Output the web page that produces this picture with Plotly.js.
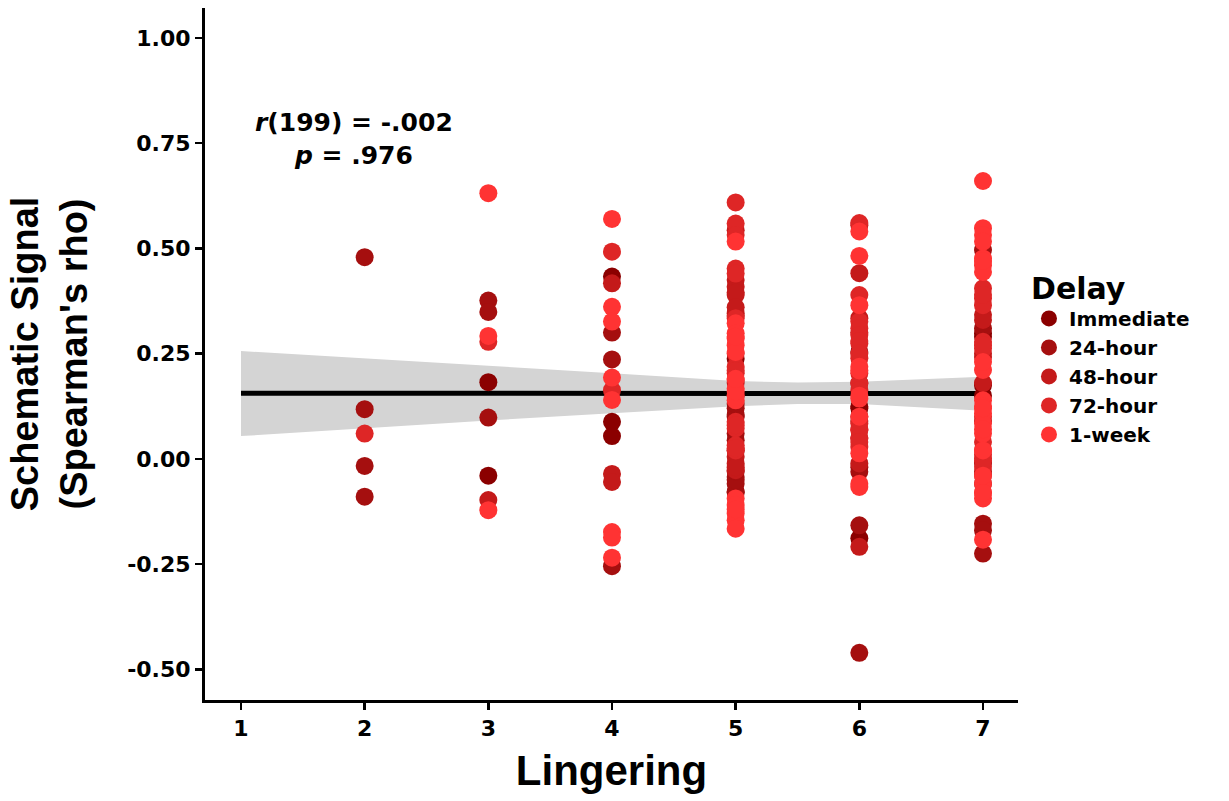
<!DOCTYPE html>
<html>
<head>
<meta charset="utf-8">
<script src="https://cdn.plot.ly/plotly-3.0.1.min.js"></script>
<style>
html,body{margin:0;padding:0;background:#fff;}
#chart{width:1229px;height:801px;}
</style>
</head>
<body>
<div id="chart"></div>
<script>
// ---- Data ----
const delayNames = ["Immediate", "24-hour", "48-hour", "72-hour", "1-week"];
const delayColors = ["#8B0000", "#A50F0F", "#C41A1A", "#DE2626", "#FF3333"];

const immX = [3,3, 4,4,4, 5,5,5,5,5, 6,6,6,6, 7,7,7,7,7];
const immY = [0.182,-0.040, 0.433,0.088,0.054, 0.238,0.150,0.100,-0.080,0.020, 0.254,0.124,-0.189,0.120, 0.298,0.175,0.150,0.290,-0.010];

const h24X = [2,2,2,2, 3,3,3, 4,4,4, 5,5,5,5,5,5,5,5,5,5, 6,6,6,6,6,6,6, 7,7,7,7,7,7,7];
const h24Y = [0.479,0.118,-0.017,-0.090, 0.376,0.349,0.098, 0.300,0.236,-0.255,
              0.120,0.104,0.060,0.044,-0.043,-0.059,-0.078,0.130,-0.050,-0.030,
              0.100,-0.031,-0.158,-0.461,0.090,-0.020,0.180,
              0.496,-0.154,-0.170,-0.225,-0.059,0.090,0.310];

const h48X = [3, 4,4,4, 5,5,5,5,5,5,5,5,5,5,5,5,5, 6,6,6,6,6,6,6, 7,7,7,7,7,7,7];
const h48Y = [-0.098, 0.417,-0.036,-0.055,
              0.543,0.425,0.409,0.389,0.346,0.005,-0.011,-0.027,0.340,0.395,-0.020,0.360,0.180,
              0.555,0.441,0.334,-0.011,-0.209,0.300,0.050,
              0.342,0.242,-0.039,0.330,0.250,-0.030,0.180];

const h72X = [2, 3, 4,4,
              5,5,5,5,5,5,5,5,5,5,5,5,5,5,5,5,5,
              6,6,6,6,6,6,6,6,6,6,6,6,6,6,6,6,6,6,
              7,7,7,7,7,7,7,7,7,7,7,7,7,7];
const h72Y = [0.060, 0.278, 0.492,0.163,
              0.609,0.559,0.532,0.452,0.440,0.334,0.219,0.203,0.187,0.088,0.072,0.032,0.020,0.210,0.080,0.025,0.250,
              0.560,0.389,0.326,0.310,0.294,0.274,0.239,0.203,0.179,0.163,0.084,0.068,0.048,0.028,0.280,0.070,0.040,0.250,
              0.405,0.381,0.365,0.278,0.262,0.040,0.021,0.001,-0.019,0.390,0.270,0.010,-0.005,0.100];

const wk1X = [3,3,3, 4,4,4,4,4,4,4,4,
              5,5,5,5,5,5,5,5,5,5,5,5,5,5,5,5,5,5,
              6,6,6,6,6,6,6,6,6,6,6,
              7,7,7,7,7,7,7,7,7,7,7,7,7,7,7,7,7,7,7,7,7,7,7,7];
const wk1Y = [0.631,0.292,-0.122, 0.570,0.361,0.326,0.193,0.140,-0.174,-0.187,-0.235,
              0.516,0.322,0.298,0.286,0.270,0.254,0.167,0.151,0.139,-0.094,-0.110,-0.130,-0.146,-0.166,0.160,0.290,-0.120,0.190,
              0.540,0.482,0.365,0.219,0.143,0.013,-0.059,-0.067,0.150,0.210,0.100,
              0.660,0.548,0.532,0.516,0.476,0.460,0.444,0.211,0.139,0.124,0.108,0.084,0.060,-0.059,-0.081,-0.094,-0.192,0.470,0.120,0.070,-0.080,0.020,-0.040,0.230];

// linear fit and its confidence band
const fitX = [1, 7];
const fitY = [0.156, 0.155];
const bandX = [1, 2, 3, 4, 5, 5.5, 6, 7];
const bandUpper = [0.256, 0.239, 0.221, 0.203, 0.185, 0.181, 0.183, 0.195];
const bandLower = [0.054, 0.073, 0.091, 0.108, 0.125, 0.130, 0.130, 0.114];

const xTicks = [1, 2, 3, 4, 5, 6, 7];
const yTicks = [-0.50, -0.25, 0.00, 0.25, 0.50, 0.75, 1.00];
const yTickLabels = ["-0.50", "-0.25", "0.00", "0.25", "0.50", "0.75", "1.00"];

const statLine1 = "<i>r</i>(199) = -.002";
const statLine2 = "<i>p</i> = .976";

// ---- Build traces ----
const FONT = "Liberation Sans, Arial, Helvetica, sans-serif";
const SMALL = "DejaVu Sans, Liberation Sans, Arial, sans-serif";
const traces = [];
traces.push({x: bandX, y: bandUpper, mode: "lines", line: {width: 0, color: "rgba(0,0,0,0)"},
             showlegend: false, hoverinfo: "skip"});
traces.push({x: bandX, y: bandLower, mode: "lines", line: {width: 0, color: "rgba(0,0,0,0)"},
             fill: "tonexty", fillcolor: "#D4D4D4", showlegend: false, hoverinfo: "skip"});
traces.push({x: fitX, y: fitY, mode: "lines", line: {width: 5, color: "#000000"},
             showlegend: false, hoverinfo: "skip"});

const groupsX = [immX, h24X, h48X, h72X, wk1X];
const groupsY = [immY, h24Y, h48Y, h72Y, wk1Y];
for (let i = 0; i < delayNames.length; i++) {
  traces.push({
    x: groupsX[i], y: groupsY[i], name: delayNames[i], type: "scatter", mode: "markers",
    marker: {size: 18, color: delayColors[i], line: {width: 0}},
    showlegend: true
  });
}

const layout = {
  width: 1229, height: 801,
  margin: {l: 205, r: 211, t: 8, b: 101, pad: 0},
  paper_bgcolor: "#ffffff", plot_bgcolor: "#ffffff",
  font: {family: FONT, color: "#000000", weight: "bold"},
  xaxis: {
    range: [0.709, 7.283], tickvals: xTicks, ticktext: xTicks.map(String),
    showgrid: false, zeroline: false, showline: true, linewidth: 3, linecolor: "#000",
    ticks: "outside", ticklen: 7, tickwidth: 2.5, tickcolor: "#000",
    tickfont: {family: SMALL, size: 22, weight: "bold", color: "#000"},
    title: {text: "Lingering", font: {family: FONT, size: 42, weight: "bold", color: "#000"}, standoff: 16}
  },
  yaxis: {
    range: [-0.573, 1.071], tickvals: yTicks, ticktext: yTickLabels,
    showgrid: false, zeroline: false, showline: true, linewidth: 3, linecolor: "#000",
    ticks: "outside", ticklen: 7, tickwidth: 2.5, tickcolor: "#000",
    tickfont: {family: SMALL, size: 22, weight: "bold", color: "#000"},
    title: {text: "Schematic Signal<br>(Spearman's rho)", font: {family: FONT, size: 38, weight: "bold", color: "#000"}, standoff: 28}
  },
  legend: {
    x: 1.0135, xanchor: "left", y: 0.636, yanchor: "top",
    traceorder: "normal",
    title: {text: "Delay", font: {family: SMALL, size: 30, weight: "bold", color: "#000"}},
    font: {family: SMALL, size: 20, weight: "bold", color: "#000"},
    bgcolor: "rgba(0,0,0,0)", borderwidth: 0, tracegroupgap: 0
  },
  annotations: [{
    x: 1.91, y: 0.76, xref: "x", yref: "y", xanchor: "center", yanchor: "middle",
    text: statLine1 + "<br>" + statLine2, showarrow: false, align: "center",
    font: {family: SMALL, size: 25, weight: "bold", color: "#000"}
  }],
  showlegend: true
};

Plotly.newPlot("chart", traces, layout, {staticPlot: true, displayModeBar: false});
</script>
</body>
</html>
